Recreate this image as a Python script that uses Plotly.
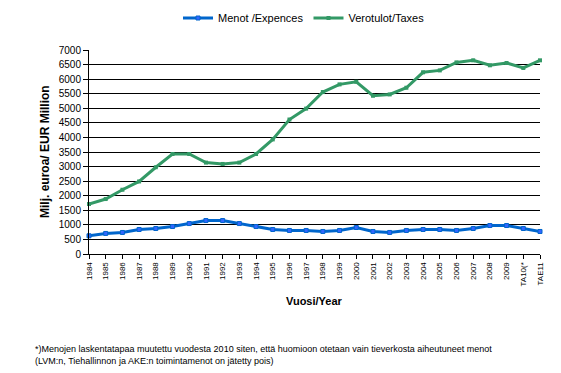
import plotly.graph_objects as go

years = ["1984", "1985", "1986", "1987", "1988", "1989", "1990", "1991", "1992", "1993",
         "1994", "1995", "1996", "1997", "1998", "1999", "2000", "2001", "2002", "2003",
         "2004", "2005", "2006", "2007", "2008", "2009", "TA10(*", "TAE11"]

menot = [625, 705, 739, 841, 875, 943, 1045, 1148, 1148, 1045,
         943, 841, 807, 807, 773, 807, 909, 773, 739, 807,
         841, 841, 807, 875, 977, 977, 875, 773]

verotulot = [1716, 1886, 2205, 2489, 2977, 3432, 3432, 3136, 3090, 3136,
             3432, 3932, 4614, 4989, 5557, 5820, 5909, 5430, 5476, 5705,
             6235, 6300, 6575, 6646, 6475, 6555, 6384, 6646]

y_ticks = list(range(0, 7001, 500))

W, H = 561, 373
L, R, T, B = 89, 21, 50, 119
pw = W - L - R
ph = H - T - B


def px_x(px):
    return (px - L) / pw


def px_y(py):
    return (H - B - py) / ph


FONT = "Liberation Sans, Arial, sans-serif"

fig = go.Figure()
fig.add_trace(go.Scatter(
    x=years, y=menot, name="Menot /Expences", mode="lines+markers",
    line=dict(color="#0066CC", width=3),
    marker=dict(symbol="square", size=4, color="#3366FF",
                line=dict(color="#0066CC", width=1)),
    cliponaxis=False,
))
fig.add_trace(go.Scatter(
    x=years, y=verotulot, name="Verotulot/Taxes", mode="lines+markers",
    line=dict(color="#339966", width=3),
    marker=dict(symbol="square", size=4, color="#339966"),
    cliponaxis=False,
))

fig.update_layout(
    width=W, height=H,
    margin=dict(l=L, r=R, t=T, b=B, pad=0, autoexpand=False),
    paper_bgcolor="white", plot_bgcolor="white",
    font=dict(family=FONT, size=10, color="black"),
    showlegend=True,
    legend=dict(orientation="h", x=px_x(304), xanchor="center",
                y=px_y(18), yanchor="middle",
                font=dict(size=11, family=FONT, color="black"),
                itemwidth=30, tracegroupgap=0, bgcolor="rgba(0,0,0,0)"),
    xaxis=dict(
        type="category", range=[0, len(years) - 1],
        showgrid=False, showline=True, linecolor="black", linewidth=1,
        ticks="outside", ticklen=4, tickcolor="black", tickwidth=1,
        tickangle=-90, tickfont=dict(size=8, family=FONT),
        zeroline=False,
    ),
    yaxis=dict(
        range=[0, 7000], tickvals=y_ticks,
        showgrid=True, gridcolor="black", gridwidth=1,
        showline=True, linecolor="black", linewidth=1,
        ticks="outside", ticklen=5, tickcolor="black", tickwidth=1,
        tickfont=dict(size=10, family=FONT),
        zeroline=False,
    ),
    annotations=[
        dict(text="<b>Milj. euroa/ EUR Million</b>", textangle=-90,
             xref="paper", yref="paper", x=px_x(45), y=px_y(152),
             xanchor="center", yanchor="middle", showarrow=False,
             font=dict(size=12, family=FONT, color="black")),
        dict(text="<b>Vuosi/Year</b>",
             xref="paper", yref="paper", x=px_x(314), y=px_y(301),
             xanchor="center", yanchor="middle", showarrow=False,
             font=dict(size=11, family=FONT, color="black")),
        dict(text="*)Menojen laskentatapaa muutettu vuodesta 2010 siten, että huomioon otetaan vain tieverkosta aiheutuneet menot<br>"
                  "(LVM:n, Tiehallinnon ja AKE:n toimintamenot on jätetty pois)",
             xref="paper", yref="paper", x=px_x(33), y=px_y(342),
             xanchor="left", yanchor="top", align="left", showarrow=False,
             font=dict(size=9, family=FONT, color="black")),
    ],
)

fig.write_html("out.html", config={"displayModeBar": False},
               post_script="document.body.style.margin='0';document.body.style.overflow='hidden';")
